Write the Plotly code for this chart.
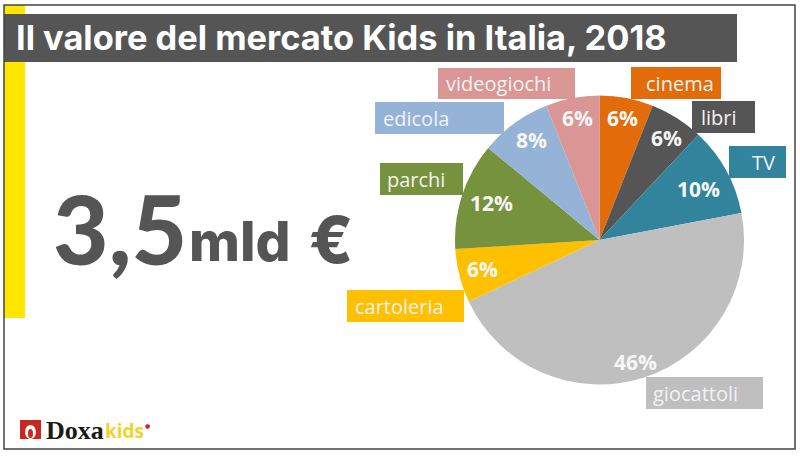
import plotly.graph_objects as go

W, H = 800, 457
categories = ["cinema", "libri", "TV", "giocattoli", "cartoleria", "parchi", "edicola", "videogiochi"]
shares = [6, 6, 10, 46, 6, 12, 8, 6]
colors = ["#E36C0A", "#555555", "#31849B", "#BFBFBF", "#FFC000", "#76923C", "#95B3D7", "#D99694"]
title_text = "Il valore del mercato Kids in Italia, 2018"
# pixel boxes of the category tags: x0, x1, y0, y1
tag_boxes = {
    "videogiochi": (438, 575, 68, 99), "edicola": (375, 504, 102, 134),
    "cinema": (631, 721, 67, 99), "libri": (692, 755, 101, 133),
    "TV": (729, 786, 146, 178), "parchi": (380, 463, 163, 195),
    "cartoleria": (347, 464, 290, 322), "giocattoli": (646, 763, 377, 409),
}
tag_text_x = {"videogiochi": 446, "edicola": 383, "cinema": 646, "libri": 701,
              "TV": 752, "parchi": 387, "cartoleria": 355, "giocattoli": 653}
# pixel centres of the percentage labels
pct_pos = {"cinema": (622, 118), "libri": (666, 138), "TV": (698, 189), "giocattoli": (635, 362),
           "cartoleria": (482, 269), "parchi": (491, 203), "edicola": (531, 140), "videogiochi": (577, 118)}

def px(x): return x / W
def py(y): return 1 - y / H

cx, cy, r = 599.5, 240, 144.5
fig = go.Figure(go.Pie(
    labels=categories, values=shares, sort=False, direction="clockwise", rotation=0,
    marker=dict(colors=colors, line=dict(width=0)),
    textinfo="none",
    domain=dict(x=[px(cx - r), px(cx + r)], y=[py(cy + r), py(cy - r)]),
    showlegend=False,
))

def rect(x0, x1, y0, y1, fill, layer="below", line=None):
    return dict(type="rect", xref="paper", yref="paper", x0=px(x0), x1=px(x1), y0=py(y0), y1=py(y1),
                fillcolor=fill, line=line or dict(width=0), layer=layer)

shapes = [
    rect(4, 25, 5, 318, "#FFE600"),
    rect(4, 737, 14, 62, "#555555"),
    rect(4, 795, 5, 449, "rgba(0,0,0,0)", layer="above", line=dict(color="#444444", width=1.5)),
    rect(20, 41, 420, 439, "#C8281E", layer="above"),
    dict(type="circle", xref="paper", yref="paper", x0=px(25), x1=px(36), y0=py(425), y1=py(439),
         fillcolor="white", line=dict(width=0), layer="above"),
    dict(type="circle", xref="paper", yref="paper", x0=px(28), x1=px(33), y0=py(429), y1=py(438),
         fillcolor="#C8281E", line=dict(width=0), layer="above"),
]
colmap = dict(zip(categories, colors))
for c, (x0, x1, y0, y1) in tag_boxes.items():
    shapes.append(rect(x0, x1, y0, y1, colmap[c]))

def note(x, y, text, size, color, family="Open Sans", weight=400, xanchor="left"):
    return dict(xref="paper", yref="paper", x=px(x), y=py(y), text=text, showarrow=False,
                xanchor=xanchor, yanchor="middle", align="left",
                font=dict(family=family, size=size, color=color, weight=weight),
                borderpad=0, borderwidth=0)

ann = [
    note(16, 38, title_text, 34.4, "white", family="Inter", weight=700),
    note(53, 227, "3,5", 96, "#555555", family="Lato", weight=900),
    note(189, 241, "mld", 55, "#555555", family="Inter", weight=800),
    note(309, 240, "€", 64, "#555555", family="Inter", weight=800),
    note(46, 430, "Doxa", 26, "#1A1A1A", family="Liberation Serif", weight=700),
    note(105, 431, "kids", 19, "#F2D22E", family="Open Sans", weight=700),
    note(145, 425, "●", 6, "#C8281E", family="DejaVu Sans"),
]
for c, (x0, x1, y0, y1) in tag_boxes.items():
    ann.append(note(tag_text_x[c], (y0 + y1) / 2, c, 20, "#F2F2F2", family="Open Sans"))
for c, v in zip(categories, shares):
    x, y = pct_pos[c]
    ann.append(note(x, y, f"{v}%", 21, "#F7F7F7", family="Open Sans", weight=700, xanchor="center"))

fig.update_layout(width=W, height=H, margin=dict(l=0, r=0, t=0, b=0),
                  paper_bgcolor="white", plot_bgcolor="white", shapes=shapes, annotations=ann)
fig.write_html("out.html", post_script="document.body.style.margin='0';",
               config=dict(displayModeBar=False))
